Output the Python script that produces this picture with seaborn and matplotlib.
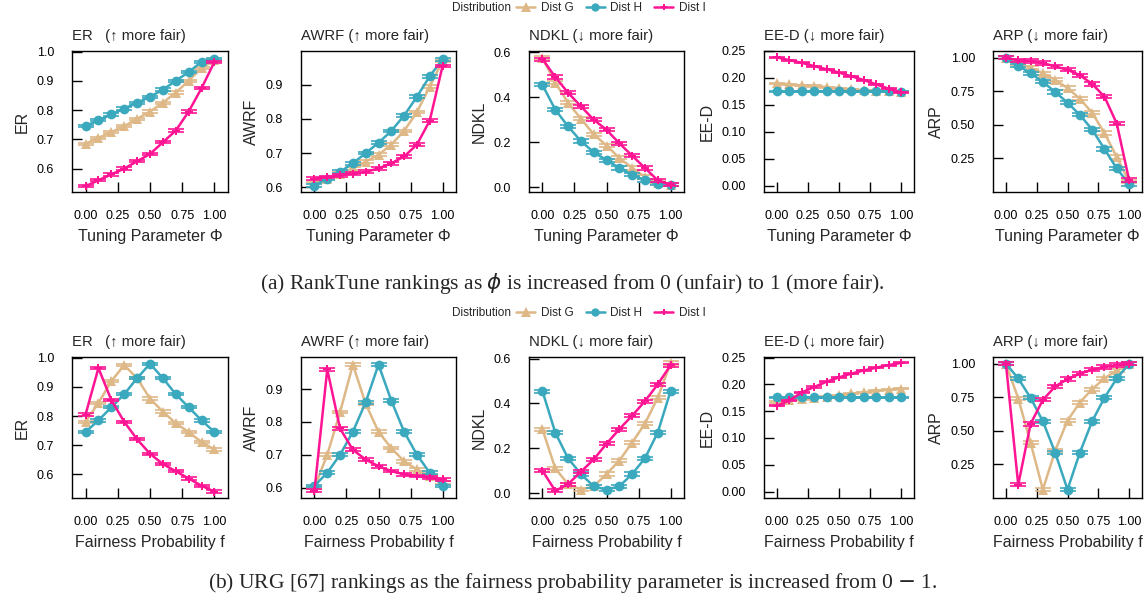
import numpy as np
import pandas as pd
import matplotlib
matplotlib.use('Agg')
import matplotlib.pyplot as plt
from matplotlib.lines import Line2D
from matplotlib.ticker import FormatStrFormatter
import seaborn as sns

sns.set_style('ticks')
plt.rcParams['font.family'] = ['Liberation Sans', 'DejaVu Sans']

params = [0.0, 0.1, 0.2, 0.3, 0.4, 0.5, 0.6, 0.7, 0.8, 0.9, 1.0]
dists = ['Dist G', 'Dist H', 'Dist I']
colors = {'Dist G': '#deb887', 'Dist H': '#3aa8bd', 'Dist I': '#ff1493'}
markers = {'Dist G': '^', 'Dist H': 'o', 'Dist I': 'P'}
msizes = {'Dist G': 7.5, 'Dist H': 7, 'Dist I': 5.5}

# (a) RankTune
tune_er = {
    'Dist G': [0.685, 0.705, 0.725, 0.745, 0.77, 0.795, 0.825, 0.86, 0.9, 0.945, 0.97],
    'Dist H': [0.745, 0.765, 0.785, 0.805, 0.825, 0.845, 0.87, 0.9, 0.93, 0.965, 0.975],
    'Dist I': [0.54, 0.56, 0.58, 0.60, 0.625, 0.65, 0.69, 0.73, 0.795, 0.875, 0.965],
}
tune_awrf = {
    'Dist G': [0.615, 0.625, 0.64, 0.655, 0.675, 0.695, 0.725, 0.765, 0.82, 0.895, 0.97],
    'Dist H': [0.605, 0.625, 0.645, 0.67, 0.70, 0.73, 0.765, 0.81, 0.865, 0.925, 0.975],
    'Dist I': [0.625, 0.63, 0.635, 0.64, 0.645, 0.655, 0.67, 0.69, 0.725, 0.795, 0.955],
}
tune_ndkl = {
    'Dist G': [0.575, 0.465, 0.375, 0.305, 0.235, 0.185, 0.13, 0.085, 0.045, 0.02, 0.01],
    'Dist H': [0.455, 0.345, 0.27, 0.205, 0.155, 0.12, 0.085, 0.055, 0.03, 0.015, 0.01],
    'Dist I': [0.57, 0.49, 0.42, 0.36, 0.30, 0.255, 0.195, 0.14, 0.085, 0.03, 0.01],
}
tune_eed = {
    'Dist G': [0.19, 0.188, 0.186, 0.185, 0.183, 0.181, 0.179, 0.177, 0.176, 0.175, 0.174],
    'Dist H': [0.175, 0.175, 0.175, 0.175, 0.175, 0.175, 0.175, 0.175, 0.175, 0.175, 0.174],
    'Dist I': [0.238, 0.233, 0.228, 0.222, 0.216, 0.21, 0.203, 0.196, 0.188, 0.18, 0.173],
}
tune_arp = {
    'Dist G': [1.0, 0.96, 0.925, 0.885, 0.835, 0.775, 0.695, 0.59, 0.44, 0.26, 0.08],
    'Dist H': [1.0, 0.94, 0.885, 0.82, 0.745, 0.665, 0.575, 0.465, 0.32, 0.175, 0.06],
    'Dist I': [1.0, 0.98, 0.975, 0.96, 0.935, 0.91, 0.87, 0.805, 0.71, 0.51, 0.09],
}

# (b) URG
urg_er = {
    'Dist G': [0.78, 0.845, 0.92, 0.975, 0.93, 0.86, 0.815, 0.775, 0.745, 0.71, 0.685],
    'Dist H': [0.745, 0.785, 0.83, 0.875, 0.93, 0.98, 0.93, 0.875, 0.83, 0.785, 0.745],
    'Dist I': [0.805, 0.965, 0.855, 0.78, 0.72, 0.67, 0.635, 0.61, 0.585, 0.56, 0.54],
}
urg_awrf = {
    'Dist G': [0.60, 0.70, 0.83, 0.975, 0.855, 0.77, 0.72, 0.68, 0.655, 0.635, 0.615],
    'Dist H': [0.605, 0.645, 0.70, 0.77, 0.86, 0.975, 0.865, 0.77, 0.70, 0.645, 0.605],
    'Dist I': [0.59, 0.96, 0.78, 0.715, 0.685, 0.665, 0.65, 0.64, 0.635, 0.63, 0.625],
}
urg_ndkl = {
    'Dist G': [0.285, 0.11, 0.04, 0.015, 0.03, 0.085, 0.145, 0.225, 0.31, 0.425, 0.58],
    'Dist H': [0.455, 0.27, 0.155, 0.085, 0.03, 0.015, 0.03, 0.085, 0.155, 0.27, 0.455],
    'Dist I': [0.10, 0.01, 0.04, 0.095, 0.15, 0.22, 0.285, 0.345, 0.41, 0.485, 0.57],
}
urg_eed = {
    'Dist G': [0.167, 0.17, 0.172, 0.175, 0.177, 0.18, 0.183, 0.185, 0.188, 0.19, 0.192],
    'Dist H': [0.176, 0.176, 0.176, 0.176, 0.176, 0.176, 0.176, 0.176, 0.176, 0.176, 0.176],
    'Dist I': [0.16, 0.17, 0.185, 0.195, 0.205, 0.213, 0.22, 0.226, 0.231, 0.236, 0.24],
}
urg_arp = {
    'Dist G': [1.0, 0.74, 0.41, 0.06, 0.35, 0.575, 0.71, 0.81, 0.89, 0.95, 1.0],
    'Dist H': [1.0, 0.89, 0.745, 0.57, 0.335, 0.06, 0.335, 0.57, 0.745, 0.89, 1.0],
    'Dist I': [1.0, 0.095, 0.55, 0.73, 0.83, 0.885, 0.925, 0.955, 0.975, 0.99, 1.0],
}

# metric name, title, half error bar, y ticks, tick format
metrics = [
    ('ER', 'ER   (\u2191 more fair)', 0.004, [0.6, 0.7, 0.8, 0.9, 1.0], '%.1f'),
    ('AWRF', 'AWRF (\u2191 more fair)', 0.004, [0.6, 0.7, 0.8, 0.9], '%.1f'),
    ('NDKL', 'NDKL (\u2193 more fair)', 0.007, [0.0, 0.2, 0.4, 0.6], '%.1f'),
    ('EE-D', 'EE-D (\u2193 more fair)', 0.001, [0.0, 0.05, 0.10, 0.15, 0.20, 0.25], '%.2f'),
    ('ARP', 'ARP (\u2193 more fair)', 0.012, [0.25, 0.5, 0.75, 1.0], '%.2f'),
]
top_data = [tune_er, tune_awrf, tune_ndkl, tune_eed, tune_arp]
bot_data = [urg_er, urg_awrf, urg_ndkl, urg_eed, urg_arp]
top_ylim = [(0.52, 1.002), (0.586, 0.999), (-0.022, 0.606), (-0.012, 0.25), (0.0, 1.05)]
bot_ylim = [(0.518, 1.003), (0.568, 0.998), (-0.022, 0.607), (-0.012, 0.251), (-0.003, 1.05)]

W, H = 1145, 605
fig = plt.figure(figsize=(W / 100, H / 100), dpi=100)
lefts = [72, 301, 529, 764, 993]
rights = [228, 456, 684, 914, 1142]


def panel(rect, data, metric, ylim, xlabel):
    name, title, err, yt, fmt = metric
    ax = fig.add_axes(rect)
    rows = []
    for d in dists:
        for x, v in zip(params, data[d]):
            rows.append({'x': x, name: v, 'Distribution': d})
    df = pd.DataFrame(rows)
    for d in dists:
        sns.lineplot(data=df[df['Distribution'] == d], x='x', y=name, color=colors[d],
                     marker=markers[d], ax=ax, legend=False, linewidth=1.8,
                     markersize=msizes[d], markeredgewidth=0)
        ax.errorbar(params, data[d], yerr=err, fmt='none', ecolor=colors[d],
                    elinewidth=1, capsize=5.5, capthick=1.2)
    ax.set_xlim(-0.105, 1.105)
    ax.set_ylim(*ylim)
    ax.set_xticks([0, 0.25, 0.5, 0.75, 1.0])
    ax.xaxis.set_major_formatter(FormatStrFormatter('%.2f'))
    ax.set_yticks(yt)
    ax.yaxis.set_major_formatter(FormatStrFormatter(fmt))
    ax.tick_params(direction='in', length=7, width=1, labelsize=9, pad=13, colors='black')
    for s in ax.spines.values():
        s.set_visible(True)
        s.set_linewidth(1)
        s.set_color('black')
    ax.set_title(title, loc='left', fontsize=10.7, pad=8)
    ax.set_xlabel(xlabel, fontsize=11.5, labelpad=5)
    ax.set_ylabel(name, fontsize=11.5, labelpad=5)
    return ax


for i in range(5):
    l, r = lefts[i], rights[i]
    panel([l / W, 1 - 192 / H, (r - l) / W, 141 / H], top_data[i], metrics[i],
          top_ylim[i], 'Tuning Parameter \u03a6')
    panel([l / W, 1 - 498 / H, (r - l) / W, 141 / H], bot_data[i], metrics[i],
          bot_ylim[i], 'Fairness Probability f')

handles = [Line2D([], [], color=colors[d], marker=markers[d], markersize=msizes[d] - 1,
                  markeredgewidth=0, linewidth=1.8) for d in dists]
for yc in [8, 313]:
    fig.text(511 / W, 1 - yc / H, 'Distribution', ha='right', va='center', fontsize=8.5)
    fig.legend(handles, dists, loc='center left', bbox_to_anchor=(508 / W, 1 - yc / H),
               ncol=3, frameon=False, fontsize=8.5, handlelength=1.6,
               handletextpad=0.5, columnspacing=1.0, borderpad=0.2)

fig.text(0.5, 1 - 283 / H,
         '(a) RankTune rankings as $\\phi$ is increased from 0 (unfair) to 1 (more fair).',
         ha='center', va='center', fontsize=15.5, family='Liberation Serif')
fig.text(0.5, 1 - 583 / H,
         '(b) URG [67] rankings as the fairness probability parameter is increased from 0 $-$ 1.',
         ha='center', va='center', fontsize=15.5, family='Liberation Serif')

fig.savefig('out.png', dpi=100)
